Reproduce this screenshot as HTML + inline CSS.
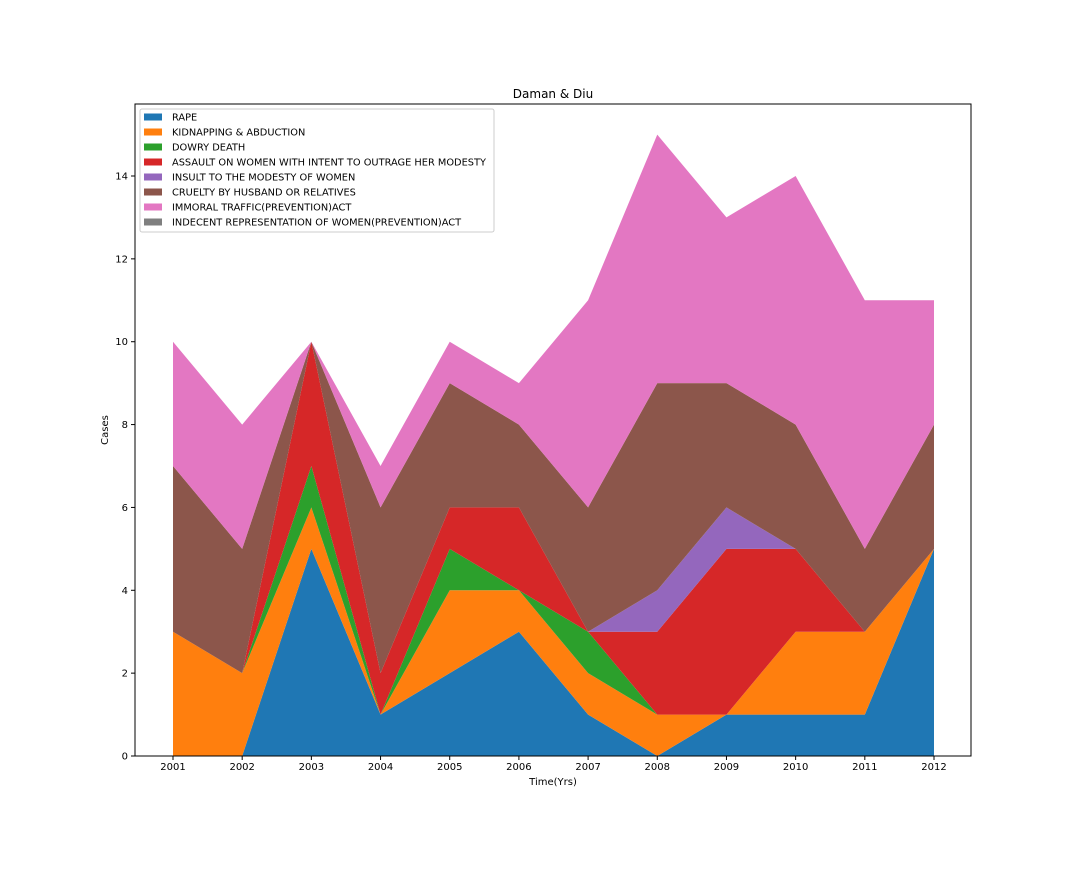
<!DOCTYPE html>
<html><head><meta charset="utf-8"><style>
body{margin:0;background:#fff;}
svg text{font-family:"DejaVu Sans","Liberation Sans",sans-serif;fill:#000;}
</style></head><body>
<svg id="chart" width="1080" height="864" xmlns="http://www.w3.org/2000/svg"></svg>
<script>
const years=[2001,2002,2003,2004,2005,2006,2007,2008,2009,2010,2011,2012];
const rape=[0,0,5,1,2,3,1,0,1,1,1,5];
const kidnapping=[3,2,1,0,2,1,1,1,0,2,2,0];
const dowry=[0,0,1,0,1,0,1,0,0,0,0,0];
const assault=[0,0,3,1,1,2,0,2,4,2,0,0];
const insult=[0,0,0,0,0,0,0,1,1,0,0,0];
const cruelty=[4,3,0,4,3,2,3,5,3,3,2,3];
const immoral=[3,3,0,1,1,1,5,6,4,6,6,3];
const indecent=[0,0,0,0,0,0,0,0,0,0,0,0];
const seriesNames=["RAPE","KIDNAPPING & ABDUCTION","DOWRY DEATH","ASSAULT ON WOMEN WITH INTENT TO OUTRAGE HER MODESTY","INSULT TO THE MODESTY OF WOMEN","CRUELTY BY HUSBAND OR RELATIVES","IMMORAL TRAFFIC(PREVENTION)ACT","INDECENT REPRESENTATION OF WOMEN(PREVENTION)ACT"];
const yTicks=[0,2,4,6,8,10,12,14];
const series=[rape,kidnapping,dowry,assault,insult,cruelty,immoral,indecent];
const colors=["#1f77b4","#ff7f0e","#2ca02c","#d62728","#9467bd","#8c564b","#e377c2","#7f7f7f"];
const svg=document.getElementById('chart');
const NS="http://www.w3.org/2000/svg";
const L=135,R=971,T=104,B=756;
const x0=years[0],x1=years[years.length-1];
const xs=v=>173+(v-x0)*(934-173)/(x1-x0);
const ys=v=>756-v*(756-176)/14;
function mk(tag,attrs,txt){const e=document.createElementNS(NS,tag);for(const k in attrs)e.setAttribute(k,attrs[k]);if(txt!==undefined)e.textContent=txt;svg.appendChild(e);return e;}
let base=years.map(()=>0);
series.forEach((s,i)=>{
  const top=base.map((b,j)=>b+s[j]);
  let d="M"+years.map((y,j)=>xs(y)+","+ys(top[j])).join("L");
  for(let j=years.length-1;j>=0;j--)d+="L"+xs(years[j])+","+ys(base[j]);
  d+="Z";
  const p=mk('path',{d:d,fill:colors[i]});
  
  
  base=top;
});
const frame=mk('rect',{x:L,y:T,width:R-L,height:B-T,fill:'none',stroke:'#000','stroke-width':1});


years.forEach(y=>{
  const X=xs(y);
  const t=mk('line',{x1:X,x2:X,y1:B,y2:B+4,stroke:'#000'});
  
  
  const l=mk('text',{x:X,y:B+14,'font-size':10,'text-anchor':'middle'},String(y));
  
  
});
yTicks.forEach(v=>{
  const Y=ys(v);
  const t=mk('line',{x1:L-4,x2:L,y1:Y,y2:Y,stroke:'#000'});
  
  
  const l=mk('text',{x:L-7,y:Y+3.5,'font-size':10,'text-anchor':'end'},String(v));
  
  
});
const xt=mk('text',{x:553,y:785,'font-size':10,'text-anchor':'middle'},'Time(Yrs)');


const yt=mk('text',{x:108,y:430,'font-size':10,'text-anchor':'middle',transform:'rotate(-90 108 430)'},'Cases');


const tt=mk('text',{x:553,y:98,'font-size':12,'text-anchor':'middle'},'Daman & Diu');


const lb=mk('rect',{x:140,y:109,width:354,height:123,fill:'#fff','fill-opacity':0.8,stroke:'#ccc',rx:2});


seriesNames.forEach((n,i)=>{
  const Y=117+i*15;
  const r=mk('rect',{x:144,y:Y-3.5,width:18,height:7,fill:colors[i]});
  
  
  const t=mk('text',{x:172,y:Y+3.5,'font-size':9.8},n);
  
  
});
</script>
</body></html>
